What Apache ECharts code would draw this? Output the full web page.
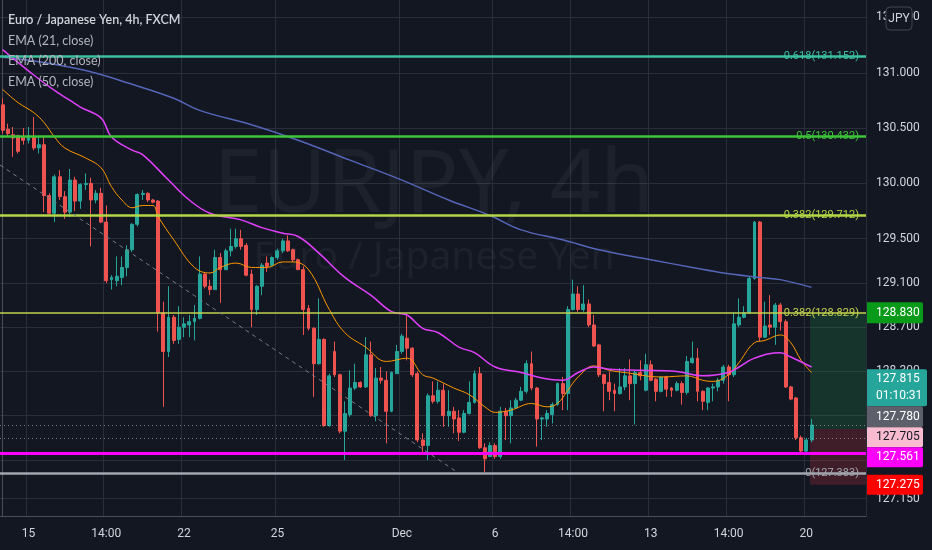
<!DOCTYPE html>
<html><head><meta charset="utf-8">
<script src="https://cdn.jsdelivr.net/npm/echarts@6/dist/echarts.min.js"></script>
<style>html,body{margin:0;padding:0;background:#131722;overflow:hidden}#c{width:932px;height:550px}</style>
</head><body><div id="c"></div>
<script>
// ---------- data ----------
const sessionHours = ['02:00','06:00','10:00','14:00','18:00','22:00'];
const tradingDays = ['2021-11-12','2021-11-15','2021-11-16','2021-11-17','2021-11-18','2021-11-19',
  '2021-11-22','2021-11-23','2021-11-24','2021-11-25','2021-11-26','2021-11-29','2021-11-30',
  '2021-12-01','2021-12-02','2021-12-03','2021-12-06','2021-12-07','2021-12-08','2021-12-09','2021-12-10',
  '2021-12-13','2021-12-14','2021-12-15','2021-12-16','2021-12-17','2021-12-20','2021-12-21'];
const categories = [];
tradingDays.forEach(d => sessionHours.forEach(h => categories.push(d + ' ' + h)));
categories.shift(); // first slot of the chart is 2021-11-12 06:00

const xTickLabels = [[5,'15'],[20,'14:00'],[35,'22'],[53,'25'],[77,'Dec'],[95,'6'],[110,'14:00'],[125,'13'],[140,'14:00'],[155,'20']];
const yTickValues = [127.15,127.5,127.9,128.3,128.7,129.1,129.5,130,130.5,131,131.5];

// [open, high, low, close]
const candles = [
[130.71,130.77,130.45,130.48],[130.49,130.54,130.42,130.45],[130.44,130.51,130.24,130.41],[130.43,130.44,130.27,130.29],
[130.42,130.50,130.35,130.39],[130.39,130.51,130.36,130.43],[130.42,130.60,130.30,130.32],[130.32,130.42,130.27,130.35],
[130.35,130.42,129.74,129.89],[129.89,129.91,129.72,129.73],[129.73,130.08,129.65,130.06],[130.06,130.12,129.85,129.88],
[129.88,129.93,129.68,129.74],[129.74,130.13,129.70,130.03],[130.03,130.06,129.75,129.84],[129.84,130.00,129.77,129.99],
[129.99,130.09,129.94,130.00],[130.00,130.05,129.43,129.85],[129.85,129.94,129.82,129.91],[129.91,129.96,129.64,129.65],
[129.65,129.80,129.10,129.12],[129.13,129.17,129.04,129.15],[129.12,129.34,129.07,129.16],[129.15,129.34,129.08,129.24],
[129.24,129.44,129.16,129.40],[129.40,129.64,129.38,129.63],[129.63,129.91,129.61,129.90],[129.90,129.94,129.85,129.91],
[129.91,129.92,129.83,129.85],[129.85,129.86,129.82,129.83],[129.84,129.85,128.66,128.83],[128.83,128.93,127.98,128.48],
[128.48,129.07,128.43,128.79],[128.79,128.81,128.55,128.58],[128.59,128.89,128.55,128.70],[128.70,128.79,128.61,128.73],
[128.72,128.81,128.61,128.75],[128.75,128.90,128.58,128.78],[128.78,129.34,128.77,129.18],[129.18,129.20,129.05,129.07],
[129.07,129.13,128.99,129.04],[129.04,129.40,129.04,129.33],[129.33,129.37,128.92,129.22],[129.22,129.41,129.22,129.39],
[129.39,129.59,129.34,129.43],[129.43,129.59,129.41,129.50],[129.50,129.58,129.40,129.43],[129.44,129.46,129.16,129.17],
[129.18,129.22,128.70,128.86],[128.86,129.08,128.81,129.07],[129.07,129.28,128.99,129.26],[129.28,129.34,129.20,129.25],
[129.26,129.34,129.25,129.33],[129.33,129.41,129.31,129.39],[129.39,129.50,129.37,129.48],[129.48,129.53,129.38,129.39],
[129.40,129.41,129.29,129.31],[129.31,129.32,129.22,129.22],[129.22,129.25,128.63,128.86],[128.87,128.90,128.67,128.69],
[128.69,128.70,128.07,128.37],[128.37,128.96,128.36,128.59],[128.59,128.60,127.80,127.81],[127.81,128.28,127.80,128.26],
[128.48,128.57,128.25,128.27],[128.27,128.28,127.74,127.76],[127.76,128.03,127.50,127.92],[127.91,128.31,127.89,128.15],
[128.15,128.37,128.13,128.20],[128.20,128.21,128.15,128.16],[128.16,128.61,128.15,128.45],[128.45,128.57,127.89,127.90],
[127.90,128.33,127.85,128.24],[128.24,128.34,128.19,128.22],[128.22,128.30,127.65,127.94],[127.94,128.30,127.93,128.29],
[128.28,128.54,128.28,128.48],[128.48,128.64,128.46,128.62],[128.60,128.80,128.40,128.51],[128.51,128.52,128.25,128.27],
[128.28,128.30,127.66,127.68],[127.68,127.74,127.57,127.63],[127.63,128.10,127.50,128.08],[128.08,128.21,128.01,128.03],
[128.03,128.21,128.01,128.13],[128.13,128.19,127.80,127.90],[127.90,128.13,127.80,127.94],[127.94,127.98,127.74,127.87],
[127.88,127.95,127.67,127.75],[127.75,127.95,127.74,127.92],[127.92,128.21,127.91,128.02],[128.02,128.31,128.01,128.28],
[128.28,128.34,127.60,127.61],[127.61,127.65,127.39,127.51],[127.53,127.66,127.53,127.63],[127.63,127.65,127.51,127.53],
[127.53,127.98,127.51,127.94],[127.94,127.97,127.68,127.90],[127.90,128.04,127.65,127.97],[127.97,128.06,127.96,128.04],
[128.04,128.16,128.03,128.12],[128.12,128.40,128.10,128.37],[128.37,128.48,128.13,128.15],[128.15,128.16,127.62,127.87],
[127.87,127.89,127.68,127.88],[127.87,127.95,127.80,127.92],[127.91,128.02,127.83,128.00],[128.00,128.20,127.99,128.19],
[128.19,128.25,127.95,128.10],[128.10,128.89,127.95,128.86],[128.86,129.13,128.85,129.00],[129.00,129.07,128.84,128.86],
[128.86,129.08,128.84,128.91],[128.91,128.95,128.70,128.72],[128.72,128.81,128.52,128.53],[128.54,128.55,128.25,128.27],
[128.27,128.28,127.94,128.19],[128.20,128.30,128.04,128.12],[128.13,128.19,127.94,128.10],[128.10,128.33,128.09,128.16],
[128.16,128.33,128.13,128.26],[128.26,128.41,128.04,128.19],[128.19,128.31,127.82,128.29],[128.29,128.40,128.22,128.26],
[128.13,128.46,128.12,128.36],[128.36,128.40,128.21,128.22],[128.23,128.24,128.03,128.12],[128.12,128.25,128.11,128.25],
[128.25,128.26,128.07,128.14],[128.15,128.16,128.07,128.13],[128.13,128.21,128.12,128.19],[128.19,128.21,128.00,128.11],
[128.11,128.44,128.09,128.39],[128.38,128.57,128.37,128.42],[128.42,128.51,128.03,128.12],[128.12,128.13,127.95,128.03],
[128.02,128.16,127.95,128.15],[128.15,128.19,128.03,128.16],[128.16,128.24,128.12,128.22],[128.22,128.36,128.19,128.34],
[128.34,128.36,128.03,128.27],[128.27,128.83,128.25,128.73],[128.72,128.96,128.70,128.79],[128.79,128.89,128.78,128.83],
[128.83,129.16,128.82,129.14],[129.14,129.66,129.13,129.65],[129.65,129.66,128.57,128.61],[128.61,128.93,128.60,128.71],
[128.72,128.99,128.63,128.70],[128.70,128.92,128.54,128.90],[128.90,128.92,128.67,128.75],[128.75,128.77,128.15,128.16],
[128.16,128.17,128.04,128.05],[128.06,128.07,127.68,127.70],[127.70,127.72,127.56,127.58],[127.58,127.70,127.56,127.68],
[127.68,127.87,127.66,127.815]
];

// EMA readings [slot, value]
const ema21 = [[0,130.85],[3,130.73],[6,130.64],[8,130.55],[10,130.42],[12,130.32],[16,130.23],[19,130.14],[21,129.97],[23,129.85],[25,129.78],[27,129.80],[29,129.80],[30,129.70],[33,129.49],[37,129.24],[40,129.19],[42,129.24],[45,129.28],[48,129.24],[51,129.24],[54,129.29],[56,129.29],[59,129.22],[63,128.86],[66,128.65],[70,128.52],[74,128.39],[78,128.42],[81,128.27],[83,128.24],[87,128.15],[90,128.09],[93,127.98],[95,127.93],[98,127.95],[102,128.01],[105,127.98],[107,128.01],[109,128.13],[111,128.25],[114,128.35],[117,128.31],[120,128.29],[127,128.25],[132,128.26],[135,128.22],[137,128.21],[140,128.27],[142,128.38],[145,128.56],[147,128.58],[150,128.63],[152,128.56],[154,128.40],[156,128.29]];
const ema50 = [[0,131.21],[6,130.98],[10,130.84],[13,130.75],[15,130.69],[19,130.59],[21,130.42],[25,130.30],[27,130.26],[32,130.03],[36,129.85],[40,129.73],[46,129.67],[50,129.60],[54,129.55],[57,129.52],[61,129.37],[66,129.15],[71,128.99],[75,128.84],[78,128.81],[81,128.69],[84,128.65],[88,128.52],[91,128.47],[95,128.34],[100,128.29],[104,128.24],[108,128.22],[111,128.29],[114,128.34],[117,128.32],[123,128.31],[130,128.30],[135,128.26],[140,128.29],[142,128.34],[145,128.42],[150,128.47],[152,128.43],[156,128.34]];
const ema200 = [[0,131.14],[7,131.10],[17,131.01],[24,130.91],[33,130.77],[38,130.66],[48,130.53],[57,130.39],[67,130.21],[77,130.03],[86,129.85],[94,129.71],[100,129.58],[108,129.49],[115,129.40],[125,129.31],[133,129.24],[139,129.19],[146,129.15],[150,129.13],[156,129.06]];

const trendLine = [[-0.5,130.166],[87.6,127.391]];
const fibValues = [131.152,130.432,129.712,128.829,127.383];
const fibTexts = ['0.618(131.152)','0.5(130.432)','0.382(129.712)','0.382(128.829)','0(127.383)'];
const supportLevel = 127.561;
const dottedLevels = [127.815,127.705];
const positionTool = {start:155.7, end:166.5, target:128.829, entry:127.78, stop:127.275};
const priceTagValues = [128.830,127.815,127.780,127.705,127.561,127.275];
const countdownText = '01:10:31';
const legendTexts = ['Euro / Japanese Yen, 4h, FXCM','EMA (21, close)','EMA (200, close)','EMA (50, close)'];
const watermarkTexts = ['EURJPY, 4h','Euro / Japanese Yen'];

// ---------- styles ----------
const BG = '#131722', GRID = '#2a2e3a', AXIS = '#4a4e59', TXT = '#d1d4dc';
const fibStyle = [
  {color:'#3dc2a0', width:2.5},
  {color:'#3ec63a', width:2.5},
  {color:'#b4d746', width:2.5},
  {color:'#c2d24e', width:1.5},
  {color:'#a3a6ae', width:2.5}
];
const tagStyle = [
  {bg:'#0a9a1a', fg:'#ffffff'},
  {bg:'#26a69a', fg:'#ffffff'},
  {bg:'#5d606b', fg:'#ffffff'},
  {bg:'#f8bbd0', fg:'#131722'},
  {bg:'#ff00ff', fg:'#ffffff'},
  {bg:'#ff0000', fg:'#ffffff'}
];

const tickMap = {}; xTickLabels.forEach(t => tickMap[t[0]] = t[1]);
const isTick = i => tickMap[i] !== undefined;

const chart = echarts.init(document.getElementById('c'), null, {renderer:'canvas'});

const fibLines = fibValues.map((v,i) => ({
  yAxis: v,
  lineStyle: {color: fibStyle[i].color, width: fibStyle[i].width, type:'solid', opacity:1},
  label: {show:true, position:'insideEnd', formatter: fibTexts[i], color: fibStyle[i].color, fontSize:11, fontFamily:'Roboto', distance:7}
}));
const extraLines = [
  {yAxis: supportLevel, lineStyle:{color:'#ff00ff', width:3, type:'solid', opacity:1}, label:{show:false}},
  ...dottedLevels.map(v => ({yAxis:v, lineStyle:{color:'rgba(200,203,212,0.55)', width:1, type:[1,3]}, label:{show:false}}))
];

const option = {
  backgroundColor: BG,
  animation: false,
  grid: {left:0, right:66, top:0, bottom:34},
  xAxis: [
    {type:'category', data:categories, boundaryGap:true,
     axisLine:{show:true, lineStyle:{color:AXIS}}, axisTick:{show:false},
     axisLabel:{interval:(i)=>isTick(i), formatter:(v,i)=>tickMap[i]||'', color:TXT, fontSize:12, fontFamily:'Roboto', margin:12, hideOverlap:false},
     splitLine:{show:true, interval:(i)=>isTick(i), lineStyle:{color:GRID, width:1}}},
    {type:'value', min:-0.5, max:166.5, show:false}
  ],
  yAxis: {type:'value', position:'right', min:126.993, max:131.658,
    axisLine:{show:true, lineStyle:{color:AXIS}},
    axisTick:{show:false, customValues:yTickValues},
    axisLabel:{customValues:yTickValues, formatter:v=>v.toFixed(3), color:TXT, fontSize:12, fontFamily:'Roboto', margin:10, showMinLabel:true, showMaxLabel:true},
    splitLine:{show:true, lineStyle:{color:GRID, width:1}}},
  series: [
    {type:'candlestick', name:'EURJPY', xAxisIndex:0, z:2,
     data: candles.map(c => [c[0], c[3], c[2], c[1]]),
     barWidth: 3.4,
     itemStyle:{color:'#26a69a', color0:'#ef5350', borderColor:'#26a69a', borderColor0:'#ef5350', borderWidth:1}},
    {type:'line', name:'EMA21', xAxisIndex:1, data:ema21, smooth:0.4, showSymbol:false, symbol:'none', z:4,
     lineStyle:{color:'#ff9800', width:1}},
    {type:'line', name:'EMA200', xAxisIndex:1, data:ema200, smooth:0.4, showSymbol:false, symbol:'none', z:4,
     lineStyle:{color:'#5565b8', width:1.5}},
    {type:'line', name:'EMA50', xAxisIndex:1, data:ema50, smooth:0.4, showSymbol:false, symbol:'none', z:4,
     lineStyle:{color:'#e040fb', width:1.5}},
    {type:'line', name:'trend', xAxisIndex:1, data:trendLine, showSymbol:false, symbol:'none', z:5,
     lineStyle:{color:'#787b86', width:1, type:[4,4]},
     markLine:{silent:true, symbol:'none', animation:false, data:[...fibLines, ...extraLines]},
     markArea:{silent:true, data:[
       [{coord:[positionTool.start, positionTool.target], itemStyle:{color:'rgba(34,171,80,0.2)'}},{coord:[positionTool.end, positionTool.entry]}],
       [{coord:[positionTool.start, positionTool.entry], itemStyle:{color:'rgba(242,54,69,0.2)'}},{coord:[positionTool.end, positionTool.stop]}]
     ]}}
  ]
};
chart.setOption(option);

// ---------- overlays (positions from the chart's own scale) ----------
const py = v => chart.convertToPixel({yAxisIndex:0}, v);
const tagH = [21, 37, 21, 20, 20, 20];
const tags = priceTagValues.map((v,i) => ({i, v, h:tagH[i], c:py(v)}));
// stack boxes around the pink tag like the price scale does
const anchor = 3;
tags.forEach(t => { t.top = t.c - t.h/2; t.bot = t.c + t.h/2; });
for (let i = anchor-1; i >= 0; i--) {
  const below = tags[i+1];
  if (tags[i].bot > below.top) { tags[i].bot = below.top; tags[i].top = tags[i].bot - tags[i].h; }
}
for (let i = anchor+1; i < tags.length; i++) {
  const above = tags[i-1];
  if (tags[i].top < above.bot) { tags[i].top = above.bot; tags[i].bot = tags[i].top + tags[i].h; }
}
const AX = 867;
const graphics = [];
// watermark
graphics.push({type:'text', z:0, silent:true, style:{x:434, y:187, text:watermarkTexts[0], fill:'rgba(255,255,255,0.045)', font:'normal 88px "Noto Sans"', textAlign:'center', textVerticalAlign:'middle'}});
graphics.push({type:'text', z:0, silent:true, style:{x:434, y:258, text:watermarkTexts[1], fill:'rgba(255,255,255,0.045)', font:'normal 39px "Noto Sans"', textAlign:'center', textVerticalAlign:'middle'}});
// legend
legendTexts.forEach((t,i) => graphics.push({type:'text', z:100, silent:true, style:{x:8, y:20 + i*20.7, text:t,
  fill: i===0 ? '#d1d4dc' : '#b2b5be', font:(i===0?'600 ':'normal ') + '12.5px Lato', textVerticalAlign:'middle'}}));
// price tags
tags.forEach(t => {
  const st = tagStyle[t.i];
  const w = t.i === 1 ? 60 : 56;
  graphics.push({type:'rect', z:100, silent:true, shape:{x:AX, y:t.top, width:w, height:t.h, r:[0,2,2,0]}, style:{fill:st.bg}});
  if (t.i === 1) {
    graphics.push({type:'text', z:101, silent:true, style:{x:AX+9, y:t.top+10, text:t.v.toFixed(3), fill:st.fg, font:'12px Roboto', textVerticalAlign:'middle'}});
    graphics.push({type:'text', z:101, silent:true, style:{x:AX+9, y:t.top+27, text:countdownText, fill:st.fg, font:'12px Roboto', textVerticalAlign:'middle'}});
  } else {
    graphics.push({type:'text', z:101, silent:true, style:{x:AX+9, y:(t.top+t.bot)/2, text:t.v.toFixed(3), fill:st.fg, font:'12px Roboto', textVerticalAlign:'middle'}});
  }
});
// currency button
graphics.push({type:'rect', z:100, silent:true, shape:{x:886, y:7, width:26, height:23, r:4}, style:{fill:BG, stroke:'#434651', lineWidth:1}});
graphics.push({type:'text', z:101, silent:true, style:{x:899, y:18.5, text:'JPY', fill:TXT, font:'12px Roboto', textAlign:'center', textVerticalAlign:'middle'}});

chart.setOption({graphic:{elements:graphics}});
</script>
</body></html>
